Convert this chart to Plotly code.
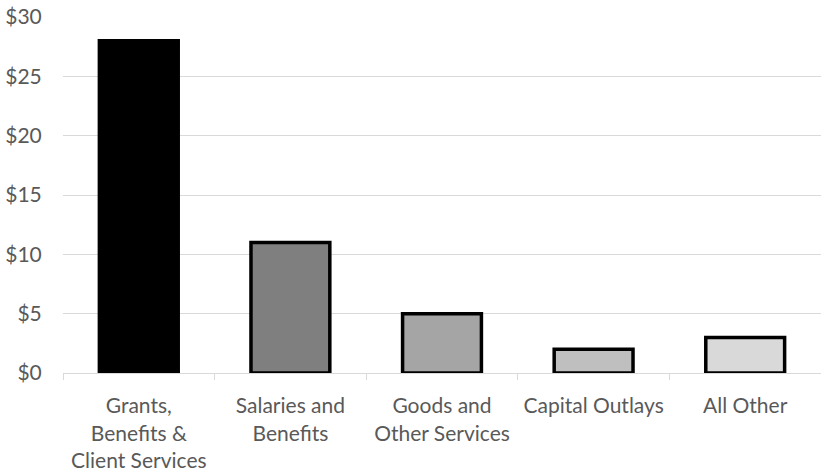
import plotly.graph_objects as go

categories = ["Grants,<br>Benefits &<br>Client Services", "Salaries and<br>Benefits",
              "Goods and<br>Other Services", "Capital Outlays", "All Other"]
values = [28, 11, 5, 2, 3]
fill_colors = ["#000000", "#7f7f7f", "#a5a5a5", "#bfbfbf", "#d9d9d9"]
y_ticks = [0, 5, 10, 15, 20, 25, 30]
y_tick_labels = ["$0", "$5", "$10", "$15", "$20", "$25", "$30"]

fig = go.Figure(go.Bar(
    x=categories, y=values,
    marker=dict(color=fill_colors, line=dict(color="#000000", width=3.5)),
))

font = dict(family="Lato, Calibri, sans-serif", size=21, color="#595959")
fig.update_layout(
    width=821, height=474,
    margin=dict(l=63, r=0, t=17, b=101, autoexpand=False),
    plot_bgcolor="white", paper_bgcolor="white",
    bargap=0.48, showlegend=False, font=font,
)
fig.update_xaxes(
    automargin=False,
    showline=True, linecolor="#d9d9d9", linewidth=1,
    ticks="outside", tickson="boundaries", ticklen=6, tickcolor="#d9d9d9",
    ticklabelstandoff=14,
    showgrid=False, tickfont=font,
)
fig.update_yaxes(
    automargin=False,
    range=[0, 30], tickvals=y_ticks, ticktext=y_tick_labels,
    showgrid=True, gridcolor="#d9d9d9", gridwidth=1, zeroline=False,
    ticks="outside", ticklen=16, tickcolor="rgba(0,0,0,0)", tickfont=font,
)
fig.write_html("out.html", config={"displayModeBar": False},
               post_script="document.body.style.margin='0';")
